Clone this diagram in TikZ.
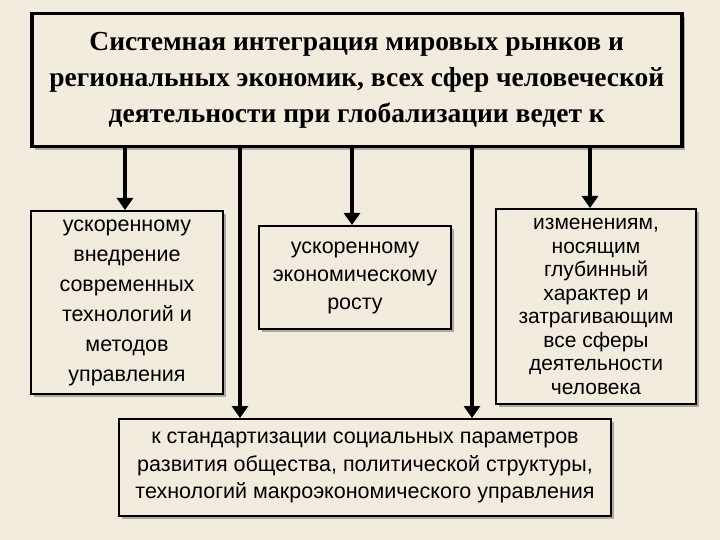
\documentclass[tikz,border=0pt]{standalone}
\usepackage{fontspec}
\setmainfont{Liberation Serif}
\newfontfamily\bodyfont{Liberation Sans}
\usetikzlibrary{arrows.meta,shadows}
\definecolor{bg}{HTML}{F2ECDF}
\tikzset{
 box/.style={draw=black,line width=2pt,fill=bg,align=center,inner sep=0pt,anchor=north west,
   drop shadow={shadow xshift=3pt,shadow yshift=-3pt,fill=black!60}},
 arr/.style={line width=4pt,-{Triangle[length=12pt,width=16pt]}},
}
\begin{document}
\begin{tikzpicture}[x=1pt,y=-1pt]
\fill[bg] (0,0) rectangle (720,540);
\useasboundingbox (0,0) rectangle (720,540);
\node[box,line width=3.5pt,minimum width=650pt,minimum height=133pt,font=\fontsize{27.5}{36}\selectfont\bfseries] (top) at (30,12)
 {Системная интеграция мировых рынков и\\региональных экономик, всех сфер человеческой\\деятельности при глобализации ведет к};
\node[box,minimum width=192pt,minimum height=183pt,font=\bodyfont\fontsize{21.5}{30}\selectfont] (b1) at (30,210)
 {ускоренному\\внедрение\\современных\\технологий и\\методов\\управления};
\node[box,minimum width=192pt,minimum height=103pt,font=\bodyfont\fontsize{21.5}{28}\selectfont] (b2) at (258,225)
 {ускоренному\\экономическому\\росту};
\node[box,minimum width=200pt,minimum height=195pt,font=\bodyfont\fontsize{21}{23.5}\selectfont] (b3) at (495,208)
 {изменениям,\\носящим\\глубинный\\характер и\\затрагивающим\\все сферы\\деятельности\\человека};
\node[box,minimum width=492pt,minimum height=97pt,font=\bodyfont\fontsize{21.5}{27.5}\selectfont] (b4) at (118,418)
 {к стандартизации социальных параметров\\развития общества, политической структуры,\\технологий макроэкономического управления};
\coordinate (t1) at (125,145); \coordinate (t2) at (240,145); \coordinate (t3) at (352,145);
\coordinate (t4) at (472,145); \coordinate (t5) at (590,145);
\draw[arr] (t1) -- (t1 |- b1.north);
\draw[arr] (t2) -- (t2 |- b4.north);
\draw[arr] (t3) -- (t3 |- b2.north);
\draw[arr] (t4) -- (t4 |- b4.north);
\draw[arr] (t5) -- (t5 |- b3.north);
\end{tikzpicture}
\end{document}
